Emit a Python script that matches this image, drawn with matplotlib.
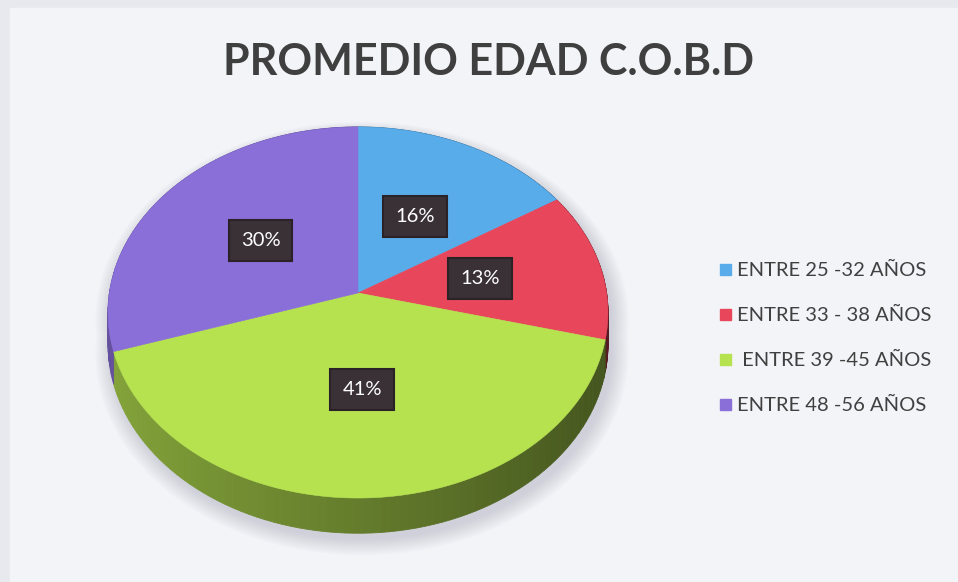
import numpy as np
import matplotlib.pyplot as plt
from matplotlib.patches import Polygon, Rectangle

# data
labels = ["ENTRE 25 -32 AÑOS", "ENTRE 33 - 38 AÑOS", " ENTRE 39 -45 AÑOS", "ENTRE 48 -56 AÑOS"]
values = [16, 13, 41, 30]
colors = ["#58acea", "#e8475b", "#b6e250", "#8a6fd8"]
title = "PROMEDIO EDAD C.O.B.D"

W, H = 958, 582
fig = plt.figure(figsize=(W / 100, H / 100), dpi=100)
fig.patch.set_facecolor("#e8e9ee")
ax = fig.add_axes([0, 0, 1, 1])
ax.set_xlim(0, W)
ax.set_ylim(H, 0)
ax.axis("off")
ax.add_patch(Rectangle((10, 8), W - 10, H - 8, color="#f3f4f8", zorder=0))

# pie geometry (perspective tilted disk)
cx, cy = 358, 293
A, B, k = 248.6, 183.5, 0.105
thick = 31.5


def proj(phi, r=1.0, drop=0.0):
    u = r * np.cos(np.radians(phi))
    w = r * np.sin(np.radians(phi))
    s = 1.0 / (1.0 + k * w)
    return cx + A * u * s, cy - B * w * s + thick * s * drop


def shade(c, f):
    c = np.array(plt.matplotlib.colors.to_rgb(c))
    return tuple(np.clip(c * f, 0, 1))


# soft shadow
full = np.linspace(0, 360, 200)
for i in range(12):
    g = 1 + 0.006 * i
    xs, ys = proj(full, 1.0, 0.0)
    xb, yb = proj(full, 1.0, 1.0)
    px = np.concatenate([xs, xb])
    py = np.concatenate([ys, yb])
    pts = np.column_stack([cx + (px - cx) * g + 4, cy + (py - cy) * g + 6])
    ax.add_patch(Polygon(pts, closed=True, color="#9a9cab", alpha=0.035, lw=0, zorder=1))

total = sum(values)
start = 90.0
bounds = []
for v in values:
    end = start - 360.0 * v / total
    bounds.append((start, end))
    start = end

# side walls
for (a0, a1), c in zip(bounds, colors):
    angs = np.linspace(a0, a1, 80)
    for j in range(len(angs) - 1):
        seg = np.linspace(angs[j], angs[j + 1], 3)
        xt, yt = proj(seg, 1.0, 0.0)
        xb, yb = proj(seg[::-1], 1.0, 1.0)
        m = np.radians((angs[j] + angs[j + 1]) / 2)
        f = 0.55 - 0.18 * np.cos(m)
        pts = np.column_stack([np.concatenate([xt, xb]), np.concatenate([yt, yb])])
        ax.add_patch(Polygon(pts, closed=True, fc=shade(c, f), ec=shade(c, f), lw=0.6, zorder=2))

# top faces
for (a0, a1), c in zip(bounds, colors):
    angs = np.linspace(a0, a1, 120)
    xt, yt = proj(angs)
    pts = np.column_stack([np.concatenate([[cx], xt]), np.concatenate([[cy], yt])])
    ax.add_patch(Polygon(pts, closed=True, color=c, lw=0.4, zorder=3))

# percentage labels
for (a0, a1), v in zip(bounds, values):
    x, y = proj((a0 + a1) / 2, 0.5)
    ax.text(x, y, f"{v}%", fontsize=14.5, color="white", ha="center", va="center",
            family="Lato", zorder=5,
            bbox=dict(boxstyle="square,pad=0.6", fc="#3a3136", ec="#2a2226", lw=1.5))

# title
ax.text(489, 62, title, fontsize=31, fontweight="bold", color="#3f3f3f",
        ha="center", va="center", family="Lato")

# legend
for i, (lab, c) in enumerate(zip(labels, colors)):
    y = 270 + 45 * i
    ax.add_patch(Rectangle((720, y - 6), 11, 11, color=c, zorder=4))
    ax.text(737, y, lab, fontsize=14.5, color="#404040", ha="left", va="center", family="Lato")

fig.savefig("out.png", dpi=100, facecolor=fig.get_facecolor())
